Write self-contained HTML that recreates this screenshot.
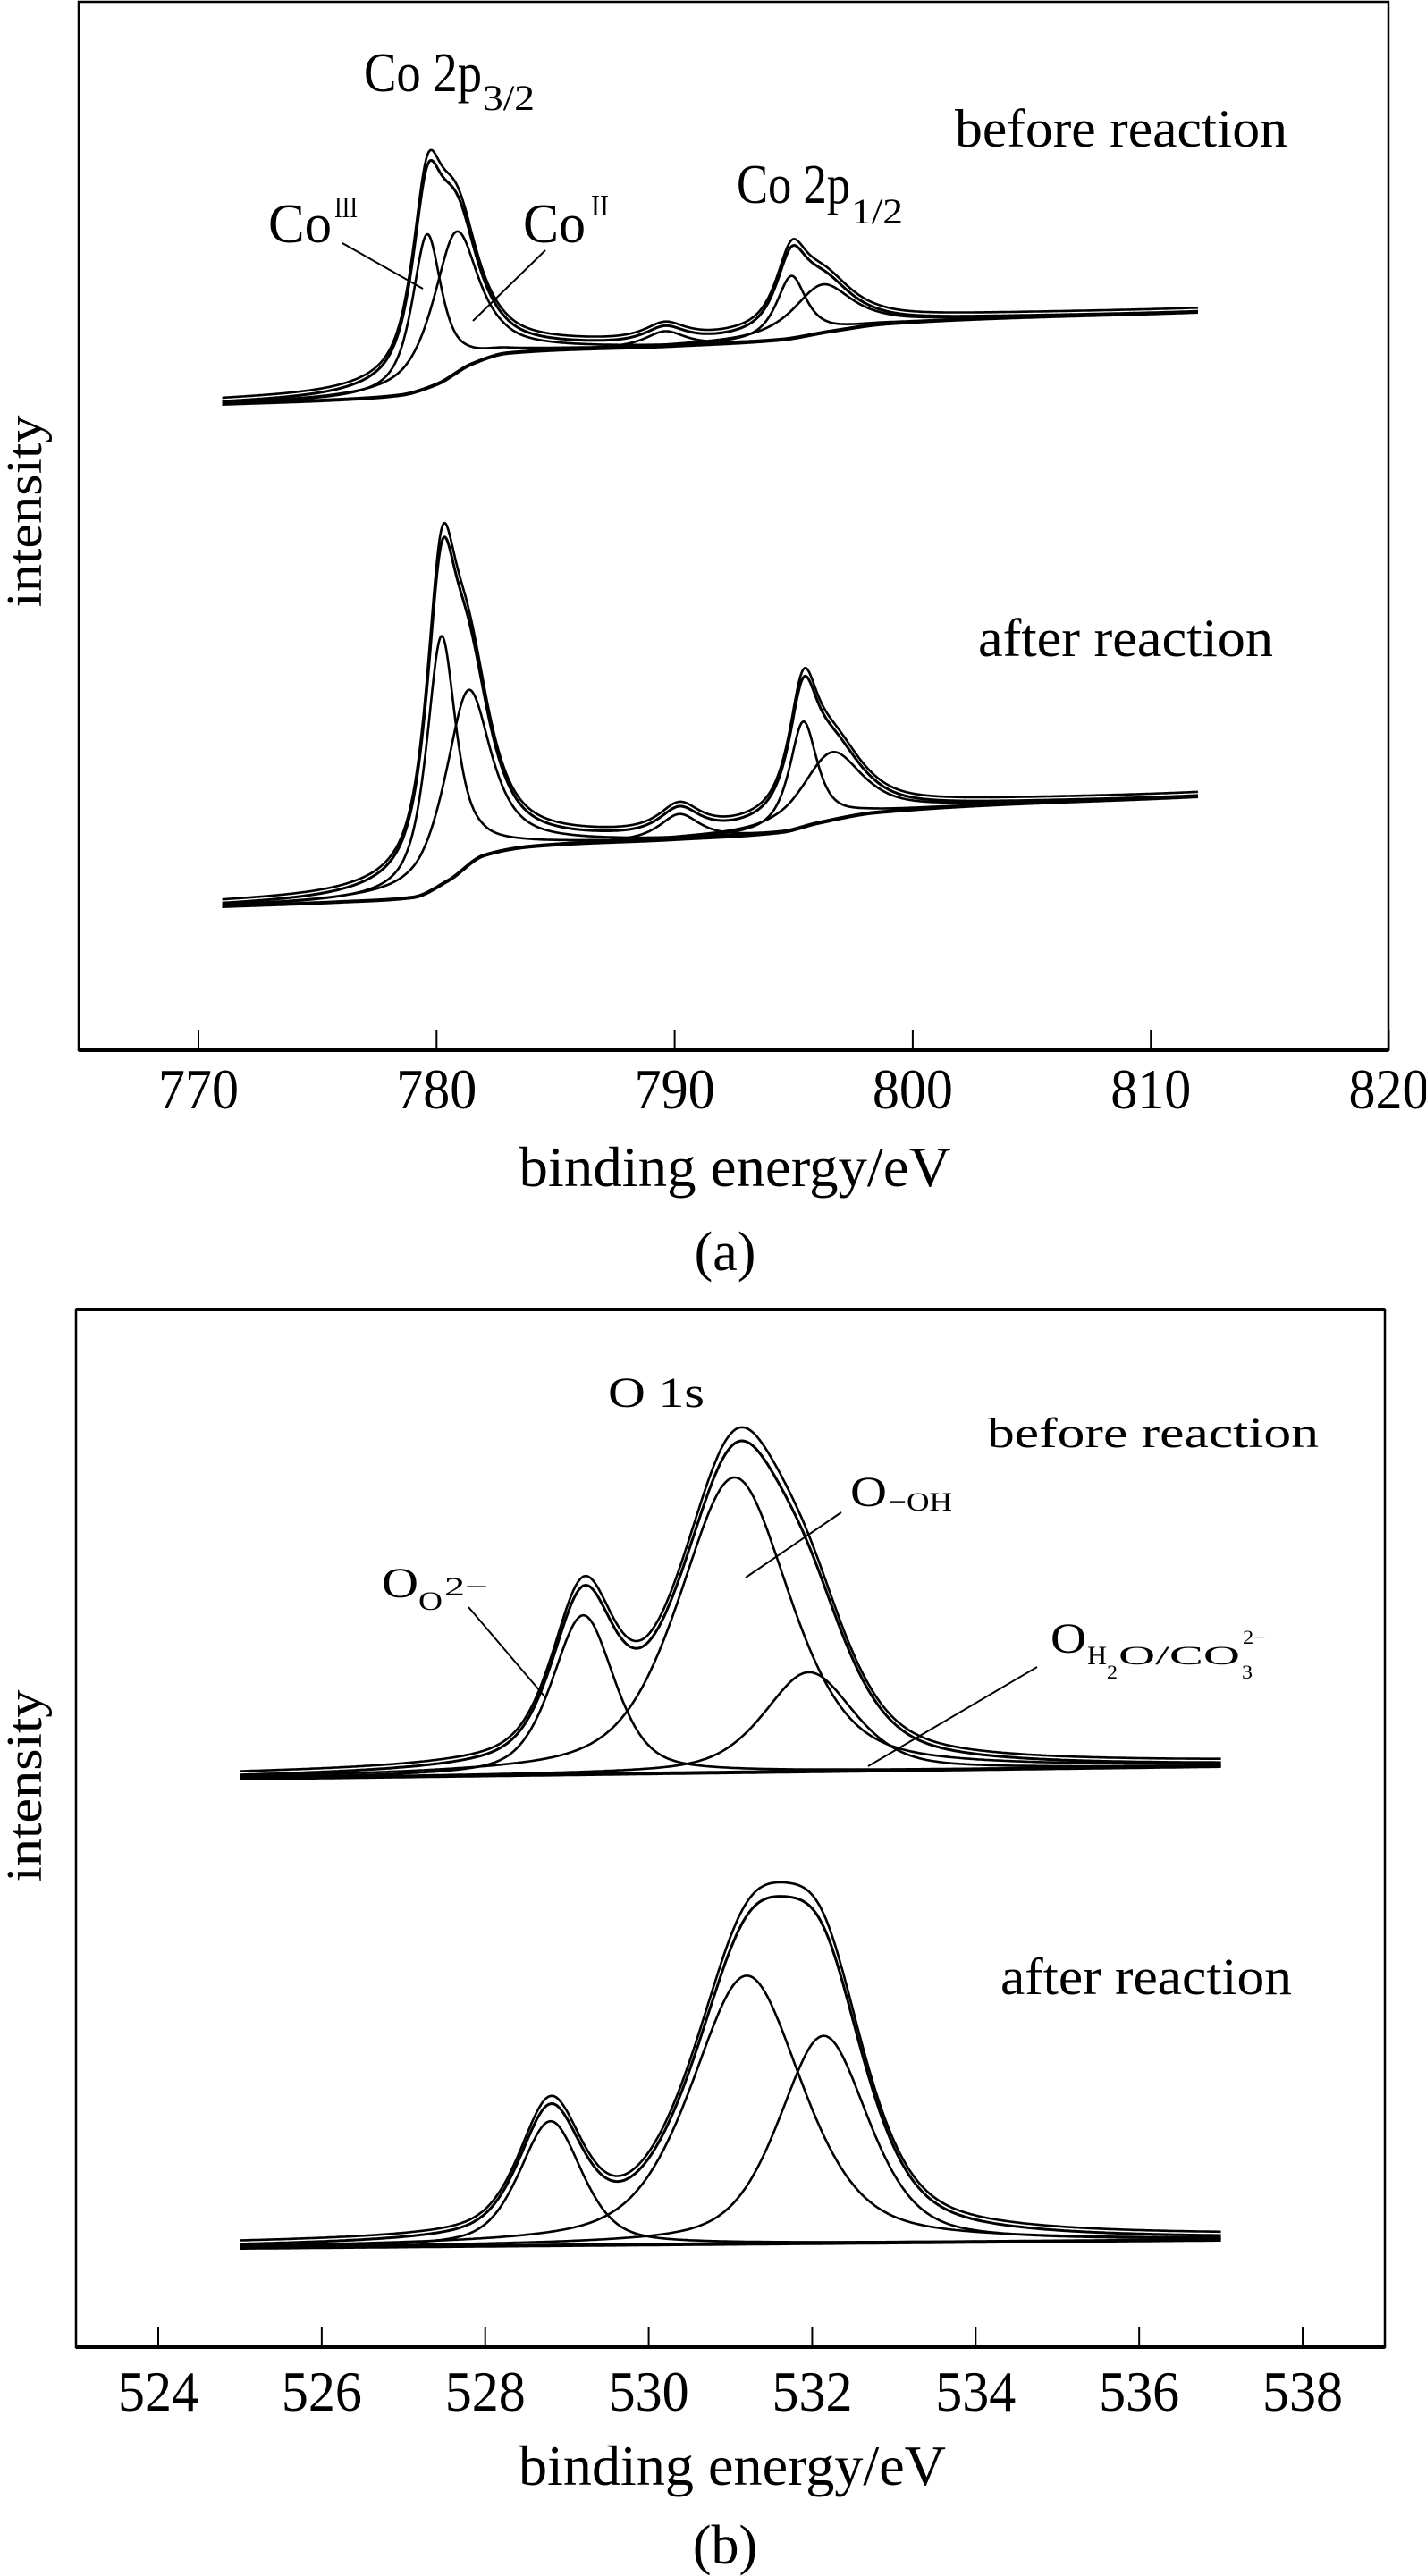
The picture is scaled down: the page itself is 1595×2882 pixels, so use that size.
<!DOCTYPE html>
<html><head><meta charset="utf-8"><style>
html,body{margin:0;padding:0;background:#fff}
svg{display:block}
text{font-family:"Liberation Serif",serif;fill:#000}
</style></head><body>
<svg id="chart" width="1595" height="2882" viewBox="0 0 1595 2882" xmlns="http://www.w3.org/2000/svg">
<rect x="0" y="0" width="1595" height="2882" fill="#fff"/>
<g id="panelA">
 <rect x="88" y="2" width="1465" height="1173" fill="none" stroke="#000" stroke-width="2.5"/>
 <line x1="88" y1="1175" x2="1553" y2="1175" stroke="#000" stroke-width="4"/>
 <g id="ticksA"></g>
 <g id="curvesA"></g>
 <text x="822" y="1327" font-size="64" text-anchor="middle" textLength="483" lengthAdjust="spacingAndGlyphs">binding energy/eV</text>
 <text x="811" y="1421" font-size="62" text-anchor="middle">(a)</text>
 <text transform="translate(46,572) rotate(-90)" font-size="56" text-anchor="middle" textLength="215" lengthAdjust="spacingAndGlyphs">intensity</text>
 <g>
  <text x="407" y="102" font-size="62" textLength="132" lengthAdjust="spacingAndGlyphs">Co 2p</text>
  <text x="540" y="123" font-size="40" textLength="58" lengthAdjust="spacingAndGlyphs">3/2</text>
 </g>
 <text x="1068" y="164" font-size="60" textLength="372" lengthAdjust="spacingAndGlyphs">before reaction</text>
 <g>
  <text x="300" y="271" font-size="62" textLength="71" lengthAdjust="spacingAndGlyphs">Co</text>
  <text x="374" y="243" font-size="34" textLength="26" lengthAdjust="spacingAndGlyphs">III</text>
  <line x1="383" y1="272" x2="473" y2="323" stroke="#000" stroke-width="2"/>
 </g>
 <g>
  <text x="585" y="271" font-size="62" textLength="70" lengthAdjust="spacingAndGlyphs">Co</text>
  <text x="661" y="241" font-size="34" textLength="20" lengthAdjust="spacingAndGlyphs">II</text>
  <line x1="610" y1="280" x2="529" y2="359" stroke="#000" stroke-width="2"/>
 </g>
 <g>
  <text x="824" y="227" font-size="62" textLength="127" lengthAdjust="spacingAndGlyphs">Co 2p</text>
  <text x="952" y="250" font-size="40" textLength="58" lengthAdjust="spacingAndGlyphs">1/2</text>
 </g>
 <text x="1094" y="734" font-size="60" textLength="330" lengthAdjust="spacingAndGlyphs">after reaction</text>
</g>
<g id="panelB">
 <rect x="85" y="1465" width="1464" height="1161" fill="none" stroke="#000" stroke-width="2.5"/>
 <line x1="85" y1="1465" x2="1549" y2="1465" stroke="#000" stroke-width="4"/>
 <line x1="85" y1="2626" x2="1549" y2="2626" stroke="#000" stroke-width="4"/>
 <g id="ticksB"></g>
 <g id="curvesB"></g>
 <text x="819" y="2780" font-size="64" text-anchor="middle" textLength="478" lengthAdjust="spacingAndGlyphs">binding energy/eV</text>
 <text x="811" y="2868" font-size="62" text-anchor="middle">(b)</text>
 <text transform="translate(46,1998) rotate(-90)" font-size="56" text-anchor="middle" textLength="215" lengthAdjust="spacingAndGlyphs">intensity</text>
 <text x="680" y="1574" font-size="48" textLength="108" lengthAdjust="spacingAndGlyphs">O 1s</text>
 <text x="1104" y="1619" font-size="48" textLength="371" lengthAdjust="spacingAndGlyphs">before reaction</text>
 <g>
  <text x="427" y="1787" font-size="48" textLength="41" lengthAdjust="spacingAndGlyphs">O</text>
  <text x="468" y="1801" font-size="30" textLength="27" lengthAdjust="spacingAndGlyphs">O</text>
  <text x="497" y="1785" font-size="30" textLength="49" lengthAdjust="spacingAndGlyphs">2−</text>
  <line x1="524" y1="1798" x2="610" y2="1899" stroke="#000" stroke-width="2"/>
 </g>
 <g>
  <text x="951" y="1685" font-size="48" textLength="41" lengthAdjust="spacingAndGlyphs">O</text>
  <text x="994" y="1690" font-size="30" textLength="71" lengthAdjust="spacingAndGlyphs">−OH</text>
  <line x1="941" y1="1692" x2="834" y2="1765" stroke="#000" stroke-width="2"/>
 </g>
 <g>
  <text x="1175" y="1849" font-size="48" textLength="40" lengthAdjust="spacingAndGlyphs">O</text>
  <text x="1216" y="1862" font-size="30" textLength="22" lengthAdjust="spacingAndGlyphs">H</text>
  <text x="1238" y="1878" font-size="22" textLength="12" lengthAdjust="spacingAndGlyphs">2</text>
  <text x="1251" y="1862" font-size="30" textLength="136" lengthAdjust="spacingAndGlyphs">O/CO</text>
  <text x="1389" y="1878" font-size="22" textLength="12" lengthAdjust="spacingAndGlyphs">3</text>
  <text x="1390" y="1839" font-size="22" textLength="26" lengthAdjust="spacingAndGlyphs">2−</text>
  <line x1="1160" y1="1865" x2="971" y2="1976" stroke="#000" stroke-width="2"/>
 </g>
 <text x="1119" y="2231" font-size="58" textLength="326" lengthAdjust="spacingAndGlyphs">after reaction</text>
</g>
</svg>
<script>
// ---------- data ----------
const ticksA = [770, 780, 790, 800, 810, 820];
const ticksB = [524, 526, 528, 530, 532, 534, 536, 538];

// Panel a, before reaction (Co 2p)
const aBeforeBgE = [771, 776, 778.5, 780, 781.5, 783, 790, 794.5, 796.5, 799, 812];
const aBeforeBgI = [723, 728, 733, 745, 768, 780, 788, 795, 804, 813, 826];
const aBeforeCenters = [779.6, 780.8, 789.6, 794.9, 796.2];
const aBeforeAmps = [172, 158, 17, 70, 54];
const aBeforeWidths = [1.5, 2.3, 2.0, 1.5, 3.0];
// Panel a, after reaction
const aAfterBgE = [771, 776, 779, 780.5, 782, 784, 790, 794.5, 796, 798.5, 812];
const aAfterBgI = [161, 166, 171, 190, 218, 228, 236, 244, 254, 266, 284];
const aAfterCenters = [780.2, 781.3, 790.2, 795.4, 796.6];
const aAfterAmps = [278, 196, 28, 118, 76];
const aAfterWidths = [1.5, 2.3, 2.0, 1.4, 3.0];

// Panel b, before reaction (O 1s)
const bBeforeBgE = [525, 537];
const bBeforeBgI = [636, 650];
const bBeforeCenters = [529.2, 531.05, 531.96];
const bBeforeAmps = [178, 330, 111];
const bBeforeWidths = [0.9, 1.6, 1.3];
// Panel b, after reaction
const bAfterBgE = [525, 537];
const bAfterBgI = [111, 120];
const bAfterCenters = [528.8, 531.2, 532.14];
const bAfterAmps = [139, 300, 232];
const bAfterWidths = [0.9, 1.6, 1.3];

// ---------- axes ----------
const xA = E => 222 + (E - 770) * 26.63;
const yA = I => 1175 - I;
const xB = E => 177 + (E - 524) * 91.43;
const yB = I => 2626 - I;
const NS = 'http://www.w3.org/2000/svg';

function pv(E, c, a, w, eta) {
  const d = (E - c) / w;
  return a * (eta / (1 + 4 * d * d) + (1 - eta) * Math.exp(-4 * Math.LN2 * d * d));
}
// monotone cubic (Fritsch-Carlson) interpolation
function interp(xs, ys, E) {
  const n = xs.length;
  if (n < 3) {
    const t = Math.min(1, Math.max(0, (E - xs[0]) / (xs[n - 1] - xs[0])));
    return ys[0] + (ys[n - 1] - ys[0]) * t;
  }
  if (E <= xs[0]) return ys[0];
  if (E >= xs[n - 1]) return ys[n - 1];
  const dl = [], m = [];
  for (let i = 0; i < n - 1; i++) dl.push((ys[i + 1] - ys[i]) / (xs[i + 1] - xs[i]));
  m[0] = dl[0]; m[n - 1] = dl[n - 2];
  for (let i = 1; i < n - 1; i++) {
    if (dl[i - 1] * dl[i] <= 0) m[i] = 0;
    else {
      const w1 = 2 * (xs[i + 1] - xs[i]) + (xs[i] - xs[i - 1]);
      const w2 = (xs[i + 1] - xs[i]) + 2 * (xs[i] - xs[i - 1]);
      m[i] = (w1 + w2) / (w1 / dl[i - 1] + w2 / dl[i]);
    }
  }
  let i = 0;
  while (E > xs[i + 1]) i++;
  const h = xs[i + 1] - xs[i], t = (E - xs[i]) / h;
  const t2 = t * t, t3 = t2 * t;
  return (2 * t3 - 3 * t2 + 1) * ys[i] + (t3 - 2 * t2 + t) * h * m[i] +
         (-2 * t3 + 3 * t2) * ys[i + 1] + (t3 - t2) * h * m[i + 1];
}
function mkPath(g, d, sw) {
  const p = document.createElementNS(NS, 'path');
  p.setAttribute('d', d);
  p.setAttribute('fill', 'none');
  p.setAttribute('stroke', '#000');
  p.setAttribute('stroke-width', sw);
  p.setAttribute('stroke-linejoin', 'round');
  g.appendChild(p);
  return p;
}
function drawSpectrum(g, xf, yf, bgE, bgI, cs, as, ws, eta, prefix) {
  const E0 = bgE[0], E1 = bgE[bgE.length - 1], step = 0.03;
  const curve = fn => {
    let d = '';
    for (let E = E0; E <= E1 + 1e-9; E += step) {
      d += (d ? 'L' : 'M') + xf(E).toFixed(1) + ',' + yf(fn(E)).toFixed(1);
    }
    return d;
  };
  const bgp = mkPath(g, curve(E => interp(bgE, bgI, E)), 4);
  
  
  for (let k = 0; k < cs.length; k++) {
    const cp = mkPath(g, curve(E => interp(bgE, bgI, E) + pv(E, cs[k], as[k], ws[k], eta)), 2.6);
    
    
  }
  const env = E => { let s = interp(bgE, bgI, E); for (let k = 0; k < cs.length; k++) s += pv(E, cs[k], as[k], ws[k], eta); return s; };
  const ep = mkPath(g, curve(env), 3);
  
  
  const mp = mkPath(g, curve(E => env(E) + 4 + 0.03 * (env(E) - interp(bgE, bgI, E))), 2.6);
  
  
}
function drawTicks(g, ticks, xf, yAxis, yLabel) {
  ticks.forEach(t => {
    const l = document.createElementNS(NS, 'line');
    l.setAttribute('x1', xf(t)); l.setAttribute('x2', xf(t));
    l.setAttribute('y1', yAxis - 23); l.setAttribute('y2', yAxis);
    l.setAttribute('stroke', '#000'); l.setAttribute('stroke-width', '2');
    
    
    g.appendChild(l);
    const tx = document.createElementNS(NS, 'text');
    tx.setAttribute('x', xf(t)); tx.setAttribute('y', yLabel);
    tx.setAttribute('font-size', '64');
    tx.setAttribute('text-anchor', 'middle');
    tx.setAttribute('textLength', '90');
    tx.setAttribute('lengthAdjust', 'spacingAndGlyphs');
    tx.textContent = t;
    
    
    g.appendChild(tx);
  });
}
drawTicks(document.getElementById('ticksA'), ticksA, xA, 1175, 1240);
drawTicks(document.getElementById('ticksB'), ticksB, xB, 2626, 2697);
const gA = document.getElementById('curvesA');
drawSpectrum(gA, xA, yA, aBeforeBgE, aBeforeBgI, aBeforeCenters, aBeforeAmps, aBeforeWidths, 0.8, 'co-before');
drawSpectrum(gA, xA, yA, aAfterBgE, aAfterBgI, aAfterCenters, aAfterAmps, aAfterWidths, 0.8, 'co-after');
const gB = document.getElementById('curvesB');
drawSpectrum(gB, xB, yB, bBeforeBgE, bBeforeBgI, bBeforeCenters, bBeforeAmps, bBeforeWidths, 0.5, 'o-before');
drawSpectrum(gB, xB, yB, bAfterBgE, bAfterBgI, bAfterCenters, bAfterAmps, bAfterWidths, 0.5, 'o-after');
</script>
</body></html>
